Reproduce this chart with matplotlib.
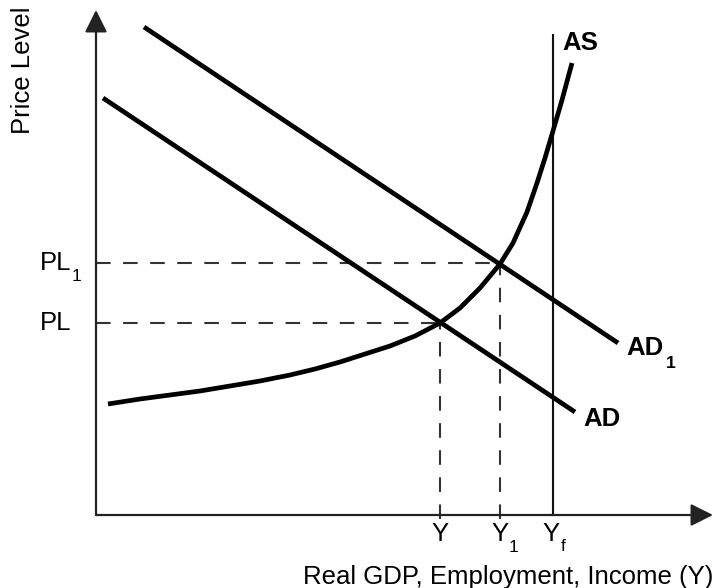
import matplotlib
matplotlib.use("Agg")
import matplotlib.pyplot as plt

plt.rcParams['font.family'] = ['Liberation Sans', 'DejaVu Sans']

# ---- data (units: arbitrary, origin at axes corner) ----
ad_x = [7, 479]
ad_y = [417, 103]
ad1_x = [48, 522]
ad1_y = [488, 172]
as_x = [12, 44, 74, 104, 134, 164, 194, 219, 244, 269, 294, 319, 344, 364, 384, 404,
        417, 431, 441, 449, 457, 466, 476]
as_y = [111, 116, 120, 124, 129, 134, 140, 146, 153, 161, 169, 179, 192, 207, 227, 251,
        272, 303, 332, 357, 384, 415, 452]
yf_x = 457
yf_top = 480
eq_x = [344, 404]        # Y, Y1
eq_y = [192, 252]        # PL, PL1
x_tick_main = ["Y", "Y", "Y"]
x_tick_sub = ["", "1", "f"]
x_tick_pos = [344, 404, 455]
y_tick_main = ["PL", "PL"]
y_tick_sub = ["", "1"]
x_axis_end = 617
y_axis_end = 505

fig = plt.figure(figsize=(7.18, 5.88), dpi=100)
ax = fig.add_axes([0, 0, 1, 1])
ax.set_xlim(-96, 622)
ax.set_ylim(-73, 515)
ax.axis('off')

# axes with arrows
axc = '#222222'
ax.annotate('', xy=(0, y_axis_end), xytext=(0, 0),
            arrowprops=dict(arrowstyle='-|>', mutation_scale=34, lw=1.6, color=axc,
                            shrinkA=0, shrinkB=0))
ax.annotate('', xy=(x_axis_end, 0), xytext=(0, 0),
            arrowprops=dict(arrowstyle='-|>', mutation_scale=34, lw=1.6, color=axc,
                            shrinkA=0, shrinkB=0))

# dashed guides
dash = (0, (7.0, 6.0))
for xe, ye in zip(eq_x, eq_y):
    ax.plot([0, xe], [ye, ye], color='#333333', lw=1.5, linestyle=dash)
    ax.plot([xe, xe], [-4, ye], color='#333333', lw=1.5, linestyle=dash)

# Yf vertical
ax.plot([yf_x, yf_x], [0, yf_top], color='#111111', lw=1.5)

# curves
ax.plot(ad_x, ad_y, color='black', lw=3.4, solid_capstyle='butt')
ax.plot(ad1_x, ad1_y, color='black', lw=3.4, solid_capstyle='butt')
ax.plot(as_x, as_y, color='black', lw=3.4, solid_capstyle='butt', solid_joinstyle='round')

fs = 18.5
sfs = 12.5
sub_off = {"1": (10, -10), "f": (9, -9)}
# labels
ax.text(-73, 445, "Price Level", rotation=90, ha='center', va='center', fontsize=fs)
for m, s, yv in zip(y_tick_main, y_tick_sub, eq_y):
    ax.text(-56, yv, m, ha='left', va='center', fontsize=fs)
    if s:
        ax.annotate(s, xy=(-56, yv), xytext=(26.6, -10), textcoords='offset points',
                    ha='center', va='center', fontsize=sfs)
for m, s, xv in zip(x_tick_main, x_tick_sub, x_tick_pos):
    ax.text(xv, -19, m, ha='center', va='center', fontsize=fs)
    if s:
        ax.annotate(s, xy=(xv, -19), xytext=sub_off[s], textcoords='offset points',
                    ha='center', va='center', fontsize=sfs)
ax.text(412, -62, "Real GDP, Employment, Income (Y)", ha='center', va='center', fontsize=fs)

ax.text(466, 472, "AS", ha='left', va='center', fontsize=fs, fontweight='bold')
ax.text(530, 167, "AD", ha='left', va='center', fontsize=fs, fontweight='bold')
ax.annotate("1", xy=(530, 167), xytext=(32, -11), textcoords='offset points',
            ha='center', va='center', fontsize=sfs, fontweight='bold')
ax.text(487, 96, "AD", ha='left', va='center', fontsize=fs, fontweight='bold')

fig.savefig("out.png", dpi=100)
